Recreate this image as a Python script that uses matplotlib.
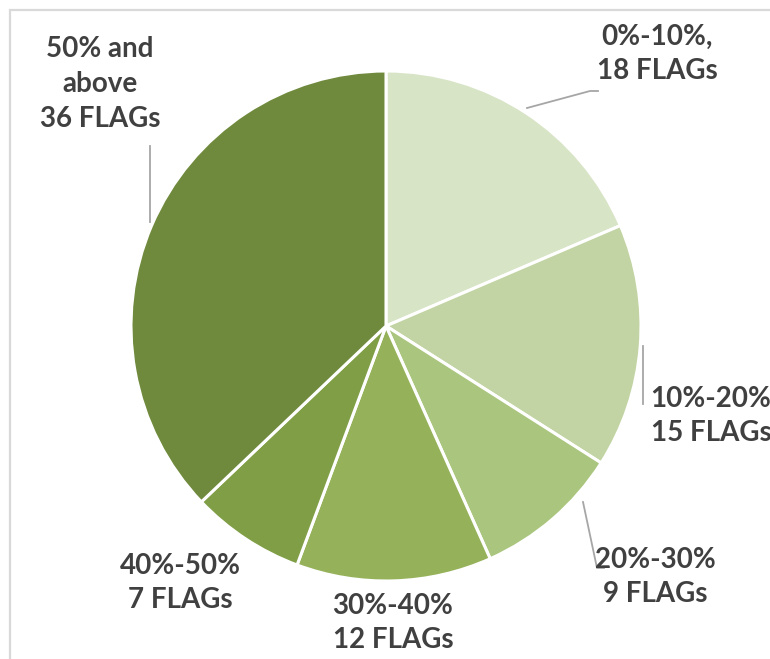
import matplotlib
matplotlib.use("Agg")
import matplotlib.pyplot as plt

W, H = 770, 659

labels = ["0%-10%,\n18 FLAGs", "10%-20%\n15 FLAGs", "20%-30%\n9 FLAGs",
          "30%-40%\n12 FLAGs", "40%-50%\n7 FLAGs", "50% and\nabove\n36 FLAGs"]
counts = [18, 15, 9, 12, 7, 36]
colors = ["#D8E4C6", "#C2D4A3", "#AAC57D", "#95B25A", "#809E45", "#6F8A3D"]

INK = "#404040"
LEAD = "#A6A6A6"
FRAME = "#D9D9D9"

plt.rcParams["font.family"] = ["Lato", "DejaVu Sans"]


def py(y):
    # flip pixel rows so everything can be placed top-down
    return H - y


fig = plt.figure(figsize=(W / 100, H / 100), dpi=100)
ax = fig.add_axes([0, 0, 1, 1])

# chart-area frame, only the left and top edges are inside the crop
ax.plot([10, 10, W], [0, py(10), py(10)], color=FRAME, lw=1.6,
        solid_joinstyle="miter")

ax.pie(counts, colors=colors, startangle=90, counterclock=False,
       center=(386, py(326)), radius=255, frame=True,
       wedgeprops=dict(edgecolor="white", linewidth=2.2))
ax.set_xlim(0, W)
ax.set_ylim(0, H)
ax.set_aspect("equal")
ax.axis("off")

# label positions (centre of text block) and leader lines
label_pos = [(657, 54), (711, 416), (655, 577), (393, 623), (180, 583), (100, 84)]
leaders = [
    [(527, 108), (590, 91), (598, 91)],
    [(643, 346), (643, 404)],
    [(583, 502), (597, 568), (604, 568)],
    None, None,
    [(150, 146), (150, 222)],
]

for lab, (x, y), pts in zip(labels, label_pos, leaders):
    ax.text(x, py(y), lab, ha="center", va="center", fontsize=20,
            fontweight="bold", color=INK, linespacing=1.42)
    if pts:
        ax.plot([p[0] for p in pts], [py(p[1]) for p in pts], color=LEAD,
                lw=1.3)

fig.savefig("out.png", dpi=100)
